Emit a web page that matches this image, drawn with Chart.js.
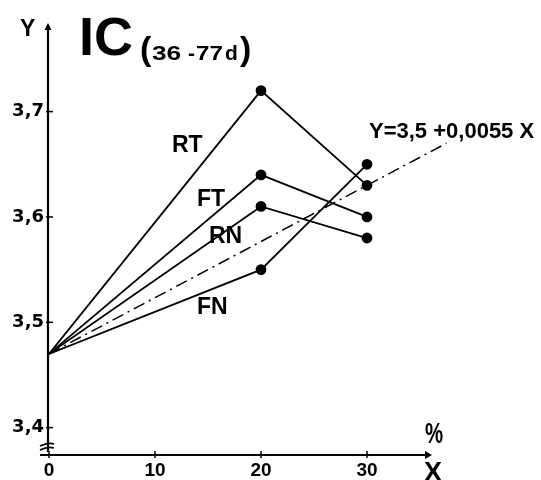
<!DOCTYPE html>
<html>
<head>
<meta charset="utf-8">
<script src="https://cdn.jsdelivr.net/npm/chart.js@4/dist/chart.umd.min.js"></script>
<style>
  html, body { margin: 0; padding: 0; background: #fff; }
  canvas { display: block; }
</style>
</head>
<body>
<canvas id="chart" width="541" height="480"></canvas>
<script>
const xValues = [0, 20, 30]
const rt = [3.47, 3.72, 3.63]
const ft = [3.47, 3.64, 3.60]
const rn = [3.47, 3.61, 3.58]
const fn = [3.47, 3.55, 3.65]
const fitX = [0, 37.5]
const fitY = [3.47, 3.67]
const xTicks = [0, 10, 20, 30]
const yTicks = [3.4, 3.5, 3.6, 3.7]

const LIB = '"Liberation Sans", Arial, sans-serif'

function toPoints(xs, ys) {
    return xs.map((x, i) => ({ x: x, y: ys[i] }))
}

function series(label, ys) {
    return {
        label: label,
        data: toPoints(xValues, ys),
        showLine: true,
        borderColor: '#000',
        borderWidth: 1.8,
        backgroundColor: '#000',
        pointRadius: [0, 4.5, 4.5],
        pointHoverRadius: 0
    }
}

// text squeezed or stretched sideways
function wideText(ctx, text, x, y, size, sx) {
    ctx.save()
    ctx.translate(x, y)
    ctx.scale(sx, 1)
    ctx.font = 'bold ' + size + 'px ' + LIB
    ctx.fillText(text, 0, 0)
    ctx.restore()
}

// axes, arrows, ticks and the text drawn on top
const drawing = {
    id: 'drawing',
    afterDraw(chart) {
        const ctx = chart.ctx
        const xs = chart.scales.x
        const ys = chart.scales.y
        const x0 = xs.getPixelForValue(0)
        const yb = chart.chartArea.bottom
        ctx.save()
        ctx.strokeStyle = '#000'
        ctx.fillStyle = '#000'
        ctx.lineWidth = 2.2

        // y axis
        const yTop = 23
        ctx.beginPath()
        ctx.moveTo(x0 - 1, yb - 3)
        ctx.lineTo(x0 - 1, yTop + 2)
        ctx.stroke()
        ctx.beginPath()
        ctx.moveTo(x0 - 1, yTop)
        ctx.lineTo(x0 - 4.5, yTop + 7)
        ctx.lineTo(x0 + 2.5, yTop + 7)
        ctx.closePath()
        ctx.fill()

        // x axis
        const xEnd = 432
        ctx.beginPath()
        ctx.moveTo(40, yb)
        ctx.lineTo(xEnd - 2, yb)
        ctx.stroke()
        ctx.beginPath()
        ctx.moveTo(xEnd, yb)
        ctx.lineTo(xEnd - 7, yb - 4)
        ctx.lineTo(xEnd - 7, yb + 4)
        ctx.closePath()
        ctx.fill()

        // tick marks
        ctx.lineWidth = 1.5
        yTicks.forEach(v => {
            const p = ys.getPixelForValue(v)
            ctx.beginPath()
            ctx.moveTo(x0 - 3, p)
            ctx.lineTo(x0 + 4, p)
            ctx.stroke()
        })
        xTicks.forEach(v => {
            const p = xs.getPixelForValue(v)
            ctx.beginPath()
            ctx.moveTo(p, yb - 4)
            ctx.lineTo(p, yb + 3)
            ctx.stroke()
        })

        // axis break
        ctx.lineWidth = 1.6
        ctx.beginPath()
        ctx.moveTo(x0 - 9, yb - 9)
        ctx.quadraticCurveTo(x0 - 1, yb - 13, x0 + 5, yb - 11)
        ctx.moveTo(x0 - 9, yb - 5)
        ctx.quadraticCurveTo(x0 - 1, yb - 9, x0 + 5, yb - 7)
        ctx.stroke()

        // texts
        ctx.textBaseline = 'alphabetic'
        ctx.textAlign = 'left'
        ctx.font = 'bold 54px ' + LIB
        ctx.fillText('IC', 79, 55)
        wideText(ctx, '(', 140, 60, 34, 1)
        wideText(ctx, ')', 240, 60, 34, 1)
        wideText(ctx, '36', 152, 60, 21, 1.25)
        wideText(ctx, '-', 188, 60, 21, 1)
        wideText(ctx, '77', 196, 60, 21, 1.15)
        wideText(ctx, 'd', 225, 60, 21, 1)

        ctx.font = 'bold 23px ' + LIB
        ctx.fillText('Y', 20, 36)

        ctx.font = 'bold 23px ' + LIB
        ctx.fillText('RT', 172, 152)
        ctx.fillText('FT', 197, 206)
        ctx.fillText('RN', 209, 243)
        ctx.fillText('FN', 197, 314)

        ctx.font = 'bold 22px ' + LIB
        ctx.fillText('Y=3,5 +0,0055 X', 369, 138)

        wideText(ctx, '%', 425, 443, 30, 0.68)

        ctx.font = 'bold 27px ' + LIB
        ctx.fillText('X', 424, 481)
        ctx.restore()
    }
}

new Chart(document.getElementById('chart'), {
    type: 'scatter',
    data: {
        datasets: [
            series('RT', rt),
            series('FT', ft),
            series('RN', rn),
            series('FN', fn),
            {
                label: 'fit',
                data: toPoints(fitX, fitY),
                showLine: true,
                borderColor: '#000',
                borderWidth: 1.5,
                borderDash: [12, 5, 2, 5],
                pointRadius: 0,
                pointHoverRadius: 0
            }
        ]
    },
    options: {
        responsive: false,
        animation: false,
        devicePixelRatio: 1,
        layout: { padding: { top: 5, right: 15, bottom: 0, left: 0 } },
        plugins: {
            legend: { display: false },
            tooltip: { enabled: false }
        },
        scales: {
            x: {
                type: 'linear',
                min: 0,
                max: 45,
                grid: { display: false, drawTicks: false },
                border: { display: false },
                afterBuildTicks: scale => { scale.ticks = xTicks.map(v => ({ value: v })) },
                afterFit: scale => {
                    scale.height = 25
                    scale.paddingLeft = 0
                    scale.paddingRight = 0
                },
                ticks: {
                    color: '#000',
                    padding: 4,
                    font: { family: LIB, size: 19, weight: 'bold' }
                }
            },
            y: {
                type: 'linear',
                min: 3.374,
                max: 3.8,
                grid: { display: false, drawTicks: false },
                border: { display: false },
                afterBuildTicks: scale => { scale.ticks = yTicks.map(v => ({ value: v })) },
                afterFit: scale => {
                    scale.width = 49
                    scale.paddingTop = 0
                    scale.paddingBottom = 0
                },
                ticks: {
                    color: '#000',
                    padding: 5,
                    font: { family: '"DejaVu Sans", sans-serif', size: 18, weight: 'bold' },
                    callback: v => v.toFixed(1).replace('.', ',')
                }
            }
        }
    },
    plugins: [drawing]
})
</script>
</body>
</html>
